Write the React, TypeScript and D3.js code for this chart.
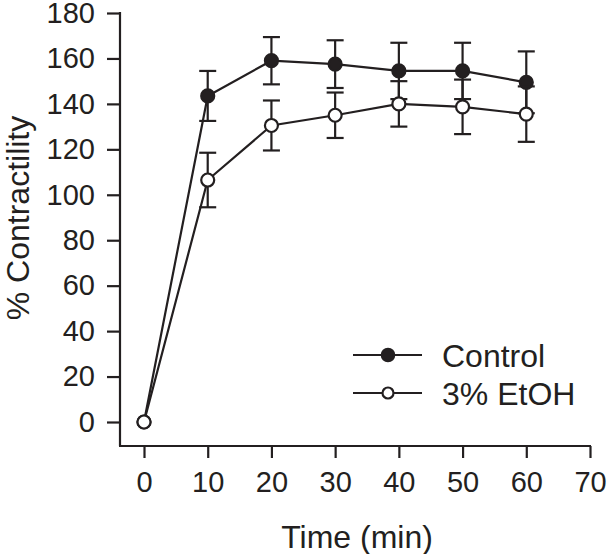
// ContractilityChart.tsx
import React, { useRef, useEffect } from 'react';
import * as d3 from 'd3';

const times = [0, 10, 20, 30, 40, 50, 60];
const controlValues = [0, 143.5, 159, 157.5, 154.5, 154.5, 149.5];
const controlErrors = [0, 11, 10.4, 10.5, 12.4, 12.4, 13.6];
const ethanolValues = [0, 106.5, 130.5, 135, 140, 138.7, 135.5];
const ethanolErrors = [0, 12, 11, 10, 10, 12, 12.2];
const xTicks = [0, 10, 20, 30, 40, 50, 60, 70];
const yTicks = [0, 20, 40, 60, 80, 100, 120, 140, 160, 180];
const seriesNames = ['Control', '3% EtOH'];

const INK = '#231f20';
const FONT = 'Arial, "Liberation Sans", Helvetica, sans-serif';

const App: React.FC = () => {
    const svgRef = useRef<SVGSVGElement | null>(null);

    useEffect(() => {
        if (!svgRef.current) return;
        const svg = d3.select(svgRef.current);
        svg.selectAll('*').remove();

        const x = d3.scaleLinear().domain([0, 70]).range([144, 590]);
        const y = d3.scaleLinear().domain([0, 180]).range([422, 13]);
        const axisX = 120;
        const axisY = 446;

        const g = svg.append('g');

        // Y axis
        const yAxis = g.append('g')
            .attr('transform', `translate(${axisX},0)`)
            .call(d3.axisLeft(y).tickValues(yTicks).tickSize(13).tickPadding(12).tickSizeOuter(0));
        yAxis.select('.domain').remove();
        yAxis.append('line')
            .attr('x1', 0).attr('x2', 0)
            .attr('y1', y(180) - 1).attr('y2', axisY)
            .attr('stroke', INK).attr('stroke-width', 2.2);

        // X axis
        const xAxis = g.append('g')
            .attr('transform', `translate(0,${axisY})`)
            .call(d3.axisBottom(x).tickValues(xTicks).tickSize(12).tickPadding(13).tickSizeOuter(0));
        xAxis.select('.domain').remove();
        xAxis.append('line')
            .attr('x1', axisX - 1).attr('x2', x(70) + 1)
            .attr('y1', 0).attr('y2', 0)
            .attr('stroke', INK).attr('stroke-width', 2.2);

        [yAxis, xAxis].forEach(ax => {
            ax.selectAll('.tick line').attr('stroke', INK).attr('stroke-width', 2.2);
            ax.selectAll('.tick text')
                .attr('fill', INK)
                .style('font-family', FONT)
                .style('font-size', '29px');
        });

        // Axis titles
        g.append('text')
            .attr('x', 357).attr('y', 548)
            .attr('text-anchor', 'middle')
            .attr('fill', INK)
            .style('font-family', FONT).style('font-size', '32px')
            .text('Time (min)');

        g.append('text')
            .attr('transform', `translate(29,${218}) rotate(-90)`)
            .attr('text-anchor', 'middle')
            .attr('fill', INK)
            .style('font-family', FONT).style('font-size', '32px')
            .text('% Contractility');

        const series = [
            { values: controlValues, errors: controlErrors, fill: INK },
            { values: ethanolValues, errors: ethanolErrors, fill: '#ffffff' },
        ];

        const line = d3.line<number>()
            .x((_, i) => x(times[i]))
            .y(d => y(d));

        const capHalf = 8.5;

        series.forEach(s => {
            const sg = g.append('g');
            // error bars
            times.forEach((t, i) => {
                if (s.errors[i] === 0) return;
                const cx = x(t);
                const top = y(s.values[i] + s.errors[i]);
                const bot = y(s.values[i] - s.errors[i]);
                sg.append('line').attr('x1', cx).attr('x2', cx).attr('y1', top).attr('y2', bot)
                    .attr('stroke', INK).attr('stroke-width', 2.2);
                [top, bot].forEach(yy => {
                    sg.append('line').attr('x1', cx - capHalf).attr('x2', cx + capHalf)
                        .attr('y1', yy).attr('y2', yy)
                        .attr('stroke', INK).attr('stroke-width', 2.2);
                });
            });
            sg.append('path')
                .attr('d', line(s.values) || '')
                .attr('fill', 'none')
                .attr('stroke', INK)
                .attr('stroke-width', 2.2);
            sg.selectAll('circle')
                .data(s.values)
                .enter().append('circle')
                .attr('cx', (_, i) => x(times[i]))
                .attr('cy', d => y(d))
                .attr('r', 6.5)
                .attr('fill', s.fill)
                .attr('stroke', INK)
                .attr('stroke-width', 2.2);
        });

        // Legend
        const legend = g.append('g');
        seriesNames.forEach((name, i) => {
            const ly = 355 + i * 38;
            legend.append('line')
                .attr('x1', 353).attr('x2', 422).attr('y1', ly).attr('y2', ly)
                .attr('stroke', INK).attr('stroke-width', 2.2);
            legend.append('circle')
                .attr('cx', 388).attr('cy', ly).attr('r', i === 0 ? 6.2 : 5.5)
                .attr('fill', series[i].fill)
                .attr('stroke', INK).attr('stroke-width', 2.2);
            legend.append('text')
                .attr('x', 442).attr('y', ly)
                .attr('dy', '0.36em')
                .attr('fill', INK)
                .style('font-family', FONT).style('font-size', '32px')
                .text(name);
        });
    }, []);

    return (
        <div style={{ position: 'absolute', left: 0, top: 0 }}>
            <svg ref={svgRef} width={608} height={554} style={{ display: 'block', background: '#fff' }} />
        </div>
    );
};

export default App;
